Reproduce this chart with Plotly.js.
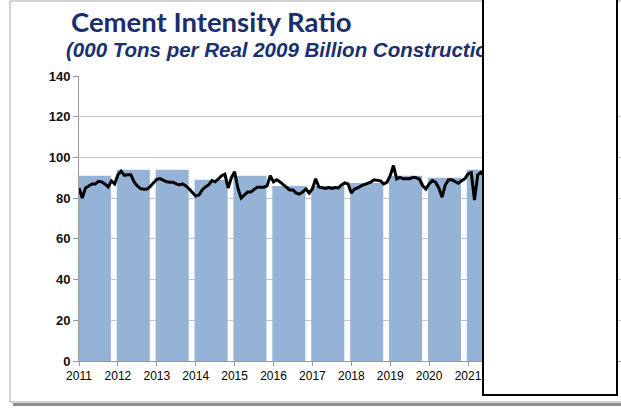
<!DOCTYPE html>
<html>
<head>
<meta charset="utf-8">
<script src="https://cdn.plot.ly/plotly-3.0.1.min.js"></script>
<style>
  html, body { margin: 0; padding: 0; background: #ffffff; }
  #chart { width: 621px; height: 408px; }
</style>
</head>
<body>
<div id="chart"></div>
<script>
// ---- data ----
const years = [2011, 2012, 2013, 2014, 2015, 2016, 2017, 2018, 2019, 2020, 2021];
const annualRatio = [91, 94, 94, 89, 91, 86, 86, 87.5, 91, 90, 94];

// monthly ratio, starting January 2011
const monthlyStart = 2011;
const monthlyRatio = [
  85, 80, 85, 86, 87, 87, 88.3, 88, 87, 85.5, 88.5, 87,          // 2011
  91.5, 93.3, 91.2, 91.5, 91.5, 88, 86, 84.7, 84.4, 84.5, 85.8, 87.6, // 2012
  89.2, 89.6, 88.6, 88, 87.8, 87.8, 87, 86.5, 87, 86, 84.5, 83,   // 2013
  81, 81.5, 84, 85.5, 86.5, 88.6, 88, 89.5, 91, 91.8, 85, 90,     // 2014
  93, 85, 80, 81.5, 83, 83, 84, 85.4, 85.4, 85.4, 86, 91,         // 2015
  88, 89, 88, 86.5, 85.5, 84, 84, 82.5, 82, 83, 84.5, 82.5,       // 2016
  84.5, 89.5, 85.5, 85.2, 84.8, 85.2, 84.8, 85.2, 85, 86.5, 87.5, 87, // 2017
  82.5, 84.5, 85, 86, 86.5, 87, 87.8, 89, 88.6, 88.5, 87, 87.8,   // 2018
  91, 96, 89.5, 90.2, 89.5, 89.6, 89.5, 90.2, 90, 89.4, 86.2, 84.5, // 2019
  87, 88.6, 87.8, 85, 80.5, 86.5, 89, 89, 88.2, 87.3, 88.5, 89.5, // 2020
  91.9, 92.5, 79, 91.5, 92.7, 91                                   // 2021
];

const titleText = 'Cement Intensity Ratio';
const subtitleText = '(000 Tons per Real 2009 Billion Construction Spending)';
const yTicks = [0, 20, 40, 60, 80, 100, 120, 140];

// ---- geometry helpers (pixel -> paper) ----
const W = 621, H = 408;
const mL = 79, mR = 0, mT = 76, mB = 47;
const plotW = W - mL - mR, plotH = H - mT - mB;
const pxPerYear = 38.9;
const px = x => (x - mL) / plotW;
const py = y => (H - mB - y) / plotH;

const monthX = monthlyRatio.map((v, i) => monthlyStart + i / 12);

const bars = {
  type: 'bar',
  x: years,
  y: annualRatio,
  width: 0.85,
  offset: -0.03,
  marker: { color: '#95b3d7', line: { width: 0 } },
  hoverinfo: 'skip'
};

const line = {
  type: 'scatter',
  mode: 'lines',
  x: monthX,
  y: monthlyRatio,
  line: { color: '#000000', width: 3 },
  hoverinfo: 'skip'
};

const layout = {
  width: W,
  height: H,
  margin: { l: mL, r: mR, t: mT, b: mB, pad: 0 },
  paper_bgcolor: '#ffffff',
  plot_bgcolor: '#ffffff',
  showlegend: false,
  font: { family: 'Liberation Sans, Arial, sans-serif', color: '#000000' },
  title: {
    text: titleText,
    font: { family: 'Lato, Open Sans, sans-serif', size: 27.5, weight: 'bold', color: '#1b2d6b' },
    xref: 'container', yref: 'container',
    x: 71 / W, xanchor: 'left',
    y: 1 - 22 / H, yanchor: 'middle'
  },
  xaxis: {
    range: [2011, 2011 + plotW / pxPerYear],
    tick0: 2011, dtick: 1, tickformat: 'd',
    showgrid: false, zeroline: false,
    showline: true, linecolor: '#9a9a9a', linewidth: 1,
    ticks: 'outside', ticklen: 4, tickcolor: '#9a9a9a',
    tickfont: { size: 12, color: '#000000' }
  },
  yaxis: {
    range: [0, 140],
    tickvals: yTicks,
    showgrid: true, gridcolor: '#c6c6c6', gridwidth: 1,
    zeroline: false,
    showline: true, linecolor: '#9a9a9a', linewidth: 1,
    ticks: 'outside', ticklen: 5, tickcolor: '#9a9a9a',
    tickfont: { size: 13, weight: 'bold', color: '#111111' }
  },
  shapes: [
    // outer chart frame
    { type: 'rect', xref: 'paper', yref: 'paper',
      x0: px(10), x1: px(640), y0: py(402), y1: py(1),
      line: { color: '#a8a8a8', width: 1 }, fillcolor: 'rgba(0,0,0,0)', layer: 'below' },
    // frame shadow
    { type: 'line', xref: 'paper', yref: 'paper',
      x0: px(13), x1: px(640), y0: py(404.5), y1: py(404.5),
      line: { color: '#8c8c8c', width: 3 }, layer: 'below' }
  ],
  annotations: [
    { text: subtitleText, showarrow: false,
      xref: 'paper', yref: 'paper',
      x: px(64), xanchor: 'left', y: py(50), yanchor: 'middle',
      font: { family: 'Liberation Sans, Arial, sans-serif', size: 20.5, weight: 'bold', style: 'italic', color: '#1b3070' } },
    // white cover box
    { text: ' ', showarrow: false,
      xref: 'paper', yref: 'paper',
      x: px(482), xanchor: 'left', y: py(396), yanchor: 'bottom',
      width: 132, height: 406,
      bgcolor: '#ffffff', bordercolor: '#000000', borderwidth: 2, borderpad: 0 }
  ]
};

Plotly.newPlot('chart', [bars, line], layout, { displayModeBar: false, staticPlot: true });
</script>
</body>
</html>
